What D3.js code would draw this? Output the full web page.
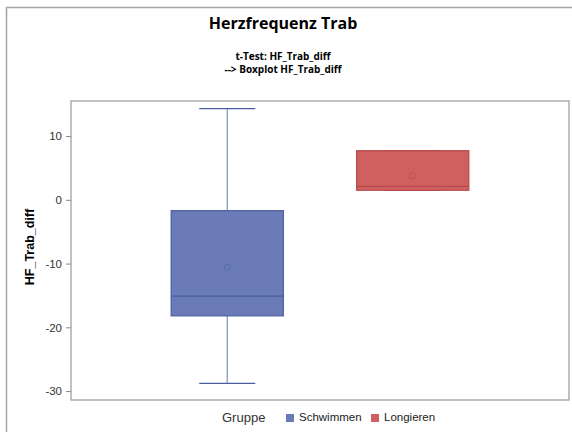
<!DOCTYPE html>
<html>
<head>
<meta charset="utf-8">
<script src="https://cdn.jsdelivr.net/npm/d3@7"></script>
<style>
  body { margin: 0; background: #fff; }
  text { font-family: "Liberation Sans", Arial, sans-serif; }
</style>
</head>
<body>
<div id="box"></div>
<script>
// groups and box statistics
var groups = ["Schwimmen", "Longieren"];
var whiskerLow = [-28.8, 1.5];
var q1Values = [-18.2, 1.5];
var medianValues = [-15.1, 2.1];
var q3Values = [-1.7, 7.7];
var whiskerHigh = [14.3, 7.7];
var meanValues = [-10.6, 3.8];
var yTicks = [-30, -20, -10, 0, 10];

var fills = ["#6a7bb7", "#d06060"];
var strokes = ["#4b5f9f", "#b54848"];
var whiskerColors = ["#8c9cc8", "#c26a6a"];

var width = 572, height = 432;
var margin = { top: 101, right: 3, bottom: 32, left: 71 };
var plotW = width - margin.left - margin.right;
var plotH = height - margin.top - margin.bottom;

var svg = d3.select("#box")
    .append("svg")
    .attr("width", width)
    .attr("height", height);

// outer frame
svg.append("rect")
    .attr("x", 6.5).attr("y", 7.5)
    .attr("width", 580).attr("height", 440)
    .attr("fill", "none")
    .attr("stroke", "#a4a4a4")
    .attr("stroke-width", 1.5);

// titles
svg.append("text")
    .attr("x", 283).attr("y", 29)
    .attr("text-anchor", "middle")
    .style("font-family", "'Open Sans', sans-serif")
    .style("font-weight", "bold")
    .style("font-size", "16px")
    .attr("fill", "#000")
    .text("Herzfrequenz Trab");
svg.append("text")
    .attr("x", 283).attr("y", 60)
    .attr("text-anchor", "middle")
    .style("font-family", "'Open Sans', sans-serif")
    .style("font-weight", "bold")
    .style("font-size", "10px")
    .attr("fill", "#000")
    .text("t-Test: HF_Trab_diff");
svg.append("text")
    .attr("x", 283).attr("y", 73)
    .attr("text-anchor", "middle")
    .style("font-family", "'Open Sans', sans-serif")
    .style("font-weight", "bold")
    .style("font-size", "10px")
    .attr("fill", "#000")
    .text("--> Boxplot HF_Trab_diff");

var g = svg.append("g")
    .attr("transform", `translate(${margin.left}, ${margin.top})`);

var y = d3.scaleLinear()
    .domain([-31.4, 15.5])
    .range([plotH, 0]);

var x = d3.scaleBand()
    .domain(groups)
    .range([0, plotW])
    .paddingInner(0.395)
    .paddingOuter(0.54);

// plot frame
g.append("rect")
    .attr("x", 0).attr("y", 0)
    .attr("width", plotW).attr("height", plotH)
    .attr("fill", "none")
    .attr("stroke", "#a0a0a0")
    .attr("stroke-width", 1.3);

// y axis (plain hyphen for negatives)
var yAxis = g.append("g")
    .call(d3.axisLeft(y).tickValues(yTicks).tickFormat(d => String(d)).tickSize(5).tickSizeOuter(0));
yAxis.select(".domain").remove();
yAxis.selectAll(".tick line").attr("stroke", "#888");
yAxis.selectAll(".tick text")
    .attr("x", -9)
    .attr("fill", "#333")
    .style("font-size", "11.5px")
    .style("font-family", "'Liberation Sans', Arial, sans-serif");

// y label
svg.append("text")
    .attr("transform", "translate(34, 247) rotate(-90)")
    .attr("text-anchor", "middle")
    .style("font-weight", "bold")
    .style("font-size", "12.5px")
    .attr("fill", "#000")
    .text("HF_Trab_diff");

// boxes
var data = groups.map((d, i) => ({
    group: d, lo: whiskerLow[i], q1: q1Values[i], med: medianValues[i],
    q3: q3Values[i], hi: whiskerHigh[i], mean: meanValues[i], i: i
}));

var boxes = g.selectAll(".box")
    .data(data)
    .enter()
    .append("g")
    .attr("class", "box");

var capW = x.bandwidth() * 0.5;

boxes.append("line")
    .attr("x1", d => x(d.group) + x.bandwidth() / 2)
    .attr("x2", d => x(d.group) + x.bandwidth() / 2)
    .attr("y1", d => y(d.hi))
    .attr("y2", d => y(d.lo))
    .attr("stroke", d => whiskerColors[d.i])
    .attr("stroke-width", 1.3);

boxes.selectAll(".cap")
    .data(d => [d.lo, d.hi].map(v => ({ v: v, d: d })))
    .enter()
    .append("line")
    .attr("x1", c => x(c.d.group) + x.bandwidth() / 2 - capW / 2)
    .attr("x2", c => x(c.d.group) + x.bandwidth() / 2 + capW / 2)
    .attr("y1", c => y(c.v))
    .attr("y2", c => y(c.v))
    .attr("stroke", c => strokes[c.d.i])
    .attr("stroke-width", 1.3);

boxes.append("rect")
    .attr("x", d => x(d.group))
    .attr("y", d => y(d.q3))
    .attr("width", x.bandwidth())
    .attr("height", d => y(d.q1) - y(d.q3))
    .attr("fill", d => fills[d.i])
    .attr("stroke", d => strokes[d.i])
    .attr("stroke-width", 1.2);

boxes.append("line")
    .attr("x1", d => x(d.group))
    .attr("x2", d => x(d.group) + x.bandwidth())
    .attr("y1", d => y(d.med))
    .attr("y2", d => y(d.med))
    .attr("stroke", d => strokes[d.i])
    .attr("stroke-width", 1.3);

boxes.append("circle")
    .attr("cx", d => x(d.group) + x.bandwidth() / 2)
    .attr("cy", d => y(d.mean))
    .attr("r", 3.2)
    .attr("fill", "none")
    .attr("stroke", d => strokes[d.i])
    .attr("stroke-opacity", 0.7)
    .attr("stroke-width", 0.8);

// legend
var legend = svg.append("g").attr("transform", "translate(0, 422)");
legend.append("text")
    .attr("x", 222).attr("y", 0)
    .style("font-size", "13px")
    .attr("fill", "#333")
    .text("Gruppe");
var items = legend.selectAll(".item")
    .data(groups)
    .enter()
    .append("g")
    .attr("transform", (d, i) => `translate(${[286, 371][i]}, 0)`);
items.append("rect")
    .attr("x", 0).attr("y", -8)
    .attr("width", 8).attr("height", 8)
    .attr("fill", (d, i) => fills[i]);
items.append("text")
    .attr("x", 13).attr("y", -1)
    .style("font-size", "11.5px")
    .attr("fill", "#222")
    .text(d => d);
</script>
</body>
</html>
